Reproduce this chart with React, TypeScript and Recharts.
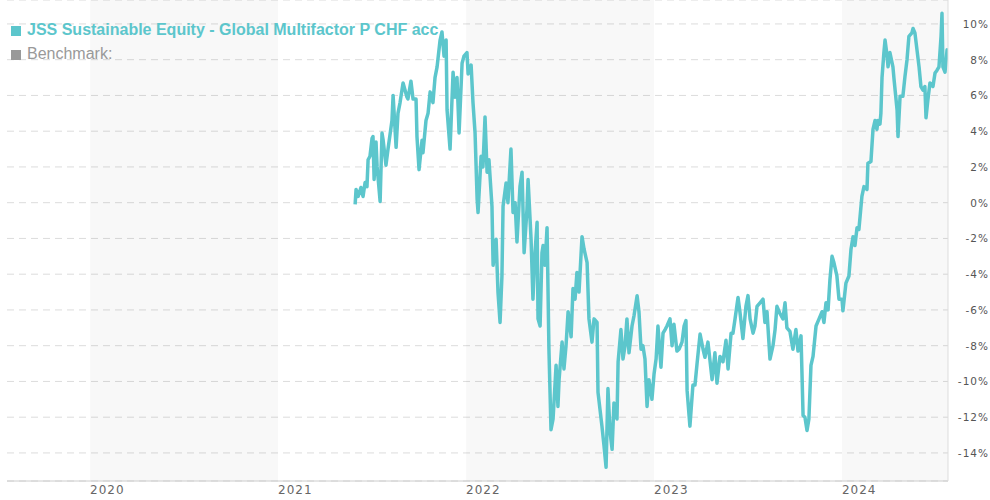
import React from "react";
import { LineChart, Line, XAxis, YAxis, CartesianGrid, ReferenceArea } from "recharts";

const fundName = "JSS Sustainable Equity - Global Multifactor P CHF acc";
const benchmarkName = "Benchmark:";

const yearTicks = [2020, 2021, 2022, 2023, 2024];
const shadedYears = [2020, 2022, 2024];
const pctTicks = [-14, -12, -10, -8, -6, -4, -2, 0, 2, 4, 6, 8, 10];
const xDomain = [2019.558, 2024.564];
const yDomain = [-15.57, 11.34];

// time in fractional years
const times = [
  2021.410, 2021.415, 2021.426, 2021.441, 2021.452, 2021.463, 2021.473, 2021.479, 2021.489, 2021.500,
  2021.505, 2021.511, 2021.521, 2021.527, 2021.543, 2021.553, 2021.559, 2021.574, 2021.585, 2021.606,
  2021.612, 2021.628, 2021.638, 2021.649, 2021.665, 2021.686, 2021.691, 2021.707, 2021.718, 2021.734,
  2021.739, 2021.750, 2021.766, 2021.771, 2021.787, 2021.798, 2021.809, 2021.824, 2021.835, 2021.846,
  2021.862, 2021.872, 2021.883, 2021.894, 2021.899, 2021.915, 2021.931, 2021.941, 2021.952, 2021.963,
  2021.979, 2021.989, 2022.005, 2022.011, 2022.027, 2022.037, 2022.048, 2022.059, 2022.064, 2022.080,
  2022.090, 2022.101, 2022.112, 2022.122, 2022.138, 2022.144, 2022.160, 2022.170, 2022.181, 2022.191,
  2022.197, 2022.213, 2022.223, 2022.239, 2022.250, 2022.261, 2022.271, 2022.287, 2022.298, 2022.309,
  2022.324, 2022.330, 2022.346, 2022.356, 2022.367, 2022.378, 2022.383, 2022.394, 2022.404, 2022.410,
  2022.420, 2022.431, 2022.441, 2022.452, 2022.463, 2022.479, 2022.489, 2022.495, 2022.511, 2022.521,
  2022.532, 2022.543, 2022.559, 2022.569, 2022.580, 2022.590, 2022.601, 2022.617, 2022.628, 2022.644,
  2022.654, 2022.670, 2022.681, 2022.697, 2022.702, 2022.723, 2022.734, 2022.745, 2022.755, 2022.766,
  2022.777, 2022.787, 2022.803, 2022.809, 2022.824, 2022.835, 2022.846, 2022.856, 2022.867, 2022.883,
  2022.894, 2022.910, 2022.920, 2022.931, 2022.941, 2022.952, 2022.963, 2022.973, 2022.989, 2023.000,
  2023.011, 2023.021, 2023.037, 2023.048, 2023.059, 2023.069, 2023.085, 2023.096, 2023.106, 2023.122,
  2023.133, 2023.149, 2023.160, 2023.170, 2023.176, 2023.191, 2023.207, 2023.218, 2023.229, 2023.245,
  2023.261, 2023.271, 2023.287, 2023.309, 2023.324, 2023.335, 2023.351, 2023.367, 2023.383, 2023.394,
  2023.410, 2023.420, 2023.431, 2023.447, 2023.457, 2023.473, 2023.489, 2023.500, 2023.511, 2023.527,
  2023.537, 2023.548, 2023.564, 2023.580, 2023.590, 2023.601, 2023.617, 2023.633, 2023.644, 2023.654,
  2023.670, 2023.686, 2023.697, 2023.707, 2023.723, 2023.739, 2023.755, 2023.766, 2023.782, 2023.793,
  2023.803, 2023.814, 2023.824, 2023.835, 2023.846, 2023.862, 2023.878, 2023.894, 2023.904, 2023.915,
  2023.926, 2023.936, 2023.947, 2023.957, 2023.973, 2023.984, 2024.000, 2024.005, 2024.021, 2024.037,
  2024.048, 2024.059, 2024.069, 2024.080, 2024.090, 2024.106, 2024.117, 2024.133, 2024.138, 2024.154,
  2024.165, 2024.176, 2024.186, 2024.191, 2024.202, 2024.207, 2024.213, 2024.223, 2024.229, 2024.239,
  2024.245, 2024.255, 2024.271, 2024.277, 2024.293, 2024.298, 2024.309, 2024.324, 2024.335, 2024.346,
  2024.356, 2024.372, 2024.378, 2024.388, 2024.399, 2024.410, 2024.420, 2024.431, 2024.441, 2024.447,
  2024.457, 2024.468, 2024.484, 2024.495, 2024.505, 2024.516, 2024.527, 2024.532, 2024.537, 2024.548,
  2024.559, 2024.564,
];

// cumulative performance in %
const fundValues = [
  -0.1, 0.74, 0.35, 0.85, 0.35, 1.13, 0.9, 2.4, 2.6, 3.6,
  3.7, 1.3, 3.4, 2.0, 0.07, 3.9, 3.5, 2.1, 3.0, 4.6,
  6.0, 3.1, 5.0, 5.6, 6.7, 5.9, 5.8, 6.8, 5.8, 5.8,
  3.7, 1.85, 3.5, 2.8, 4.6, 5.0, 6.2, 5.6, 7.0, 7.6,
  9.1, 9.55, 8.2, 9.1, 5.2, 3.0, 7.3, 5.9, 7.0, 3.9,
  7.8, 8.2, 8.4, 7.2, 7.7, 5.6, 3.9, 0.2, -0.55, 2.6,
  2.0, 4.8, 1.7, 2.4, -0.2, -3.5, -2.05, -5.0, -6.7, -4.1,
  -0.2, 1.1, 0.0, 3.0, -0.55, 0.0, -2.2, 0.9, 1.7, -2.8,
  -0.4, 1.3, -2.05, -5.4, -2.8, -1.1, -6.5, -6.9, -2.8, -2.4,
  -3.5, -1.4, -8.2, -12.7, -12.1, -9.1, -11.4, -9.9, -7.8, -9.3,
  -8.0, -6.1, -7.5, -4.8, -5.4, -3.9, -5.0, -1.9, -2.6, -3.35,
  -6.5, -7.8, -6.5, -6.7, -10.6, -12.5, -13.6, -14.8, -10.4, -12.8,
  -13.8, -11.2, -12.1, -8.9, -7.1, -8.75, -8.0, -6.5, -8.4, -6.9,
  -6.3, -5.2, -6.1, -8.2, -8.0, -8.75, -11.4, -9.9, -11.0, -9.6,
  -8.75, -6.9, -9.2, -7.3, -7.1, -6.9, -6.5, -8.0, -6.8, -8.3,
  -8.2, -7.8, -6.9, -6.6, -10.5, -12.5, -10.2, -10.2, -9.0, -7.35,
  -8.2, -8.65, -7.8, -9.9, -8.4, -10.1, -8.6, -8.9, -7.7, -9.3,
  -7.3, -7.3, -6.5, -5.3, -6.1, -7.6, -5.8, -5.2, -6.5, -7.3,
  -6.9, -5.8, -5.6, -5.4, -6.7, -6.1, -8.75, -8.0, -7.1, -5.8,
  -6.2, -6.5, -5.6, -7.0, -7.2, -8.2, -7.1, -8.3, -7.45, -11.9,
  -12.0, -12.75, -12.1, -9.1, -8.6, -6.9, -6.5, -6.1, -6.7, -5.6,
  -6.0, -4.3, -3.0, -3.35, -4.1, -5.4, -5.4, -6.05, -4.5, -4.1,
  -2.6, -1.9, -2.4, -1.4, -1.5, 0.35, 0.9, 0.74, 2.2, 2.3,
  4.1, 4.6, 4.1, 4.6, 4.4, 5.0, 7.0, 8.4, 9.1, 8.3,
  7.6, 8.4, 7.6, 6.9, 5.2, 3.7, 5.95, 5.95, 7.05, 8.0,
  9.3, 9.5, 9.75, 9.5, 8.55, 7.6, 6.5, 6.3, 6.5, 4.75,
  5.75, 6.7, 6.5, 7.25, 7.4, 7.6, 9.3, 10.6, 7.6, 7.3,
  8.55, 8.4,
];

const data = times.map((t, i) => ({ t, v: fundValues[i] }));

const TEAL = "#5cc6cc";
const GREY = "#999999";

const XTick = (props: any) => {
  const { x, y, payload } = props;
  return (
    <text x={x} y={y + 13} textAnchor="start" fontFamily="DejaVu Sans" fontSize={12} letterSpacing={1} fill="#666">
      {payload.value}
    </text>
  );
};

const YTick = (props: any) => {
  const { x, y, payload } = props;
  return (
    <text x={x + 41} y={y + 4} textAnchor="end" fontFamily="DejaVu Sans" fontSize={10.5} letterSpacing={1} fill="#555">
      {`${payload.value}%`}
    </text>
  );
};

export default function App() {
  return (
    <div style={{ position: "absolute", left: 0, top: 0, width: 990, height: 500, background: "#fff" }}>
      <LineChart width={990} height={500} data={data} margin={{ top: 0, right: 0, bottom: 0, left: 7 }}>
        {shadedYears.map((yr) => (
          <ReferenceArea
            key={yr}
            x1={yr}
            x2={Math.min(yr + 1, xDomain[1])}
            y1={yDomain[0]}
            y2={yDomain[1]}
            fill="#000"
            fillOpacity={0.028}
            stroke="none"
            ifOverflow="hidden"
          />
        ))}
        <CartesianGrid vertical={false} stroke="#dcdcdc" strokeDasharray="7 5" />
        <XAxis
          dataKey="t"
          type="number"
          domain={xDomain}
          ticks={yearTicks}
          interval={0}
          allowDataOverflow
          height={19}
          tickLine={false}
          tickSize={0}
          tickMargin={0}
          axisLine={{ stroke: "#ccc" }}
          tick={<XTick />}
        />
        <YAxis
          orientation="right"
          type="number"
          domain={yDomain}
          ticks={pctTicks}
          interval={0}
          allowDataOverflow
          width={42}
          tickLine={false}
          tickSize={0}
          tickMargin={0}
          axisLine={{ stroke: "#ddd" }}
          tick={<YTick />}
        />
        <Line
          type="linear"
          dataKey="v"
          stroke={TEAL}
          strokeWidth={3.5}
          strokeLinejoin="round"
          dot={false}
          activeDot={false}
          isAnimationActive={false}
        />
      </LineChart>
      <div
        style={{
          position: "absolute",
          left: 11,
          top: 18,
          fontFamily: "'Liberation Sans', Arial, sans-serif",
          fontSize: 16,
          lineHeight: "24px",
          whiteSpace: "nowrap",
        }}
      >
        <div style={{ color: TEAL, fontWeight: "bold" }}>
          <span style={{ display: "inline-block", width: 10, height: 10, background: TEAL, marginRight: 6, verticalAlign: "-1px" }} />
          {fundName}
        </div>
        <div style={{ color: GREY }}>
          <span style={{ display: "inline-block", width: 10, height: 10, background: GREY, marginRight: 6, verticalAlign: "-1px" }} />
          {benchmarkName}
        </div>
      </div>
    </div>
  );
}
